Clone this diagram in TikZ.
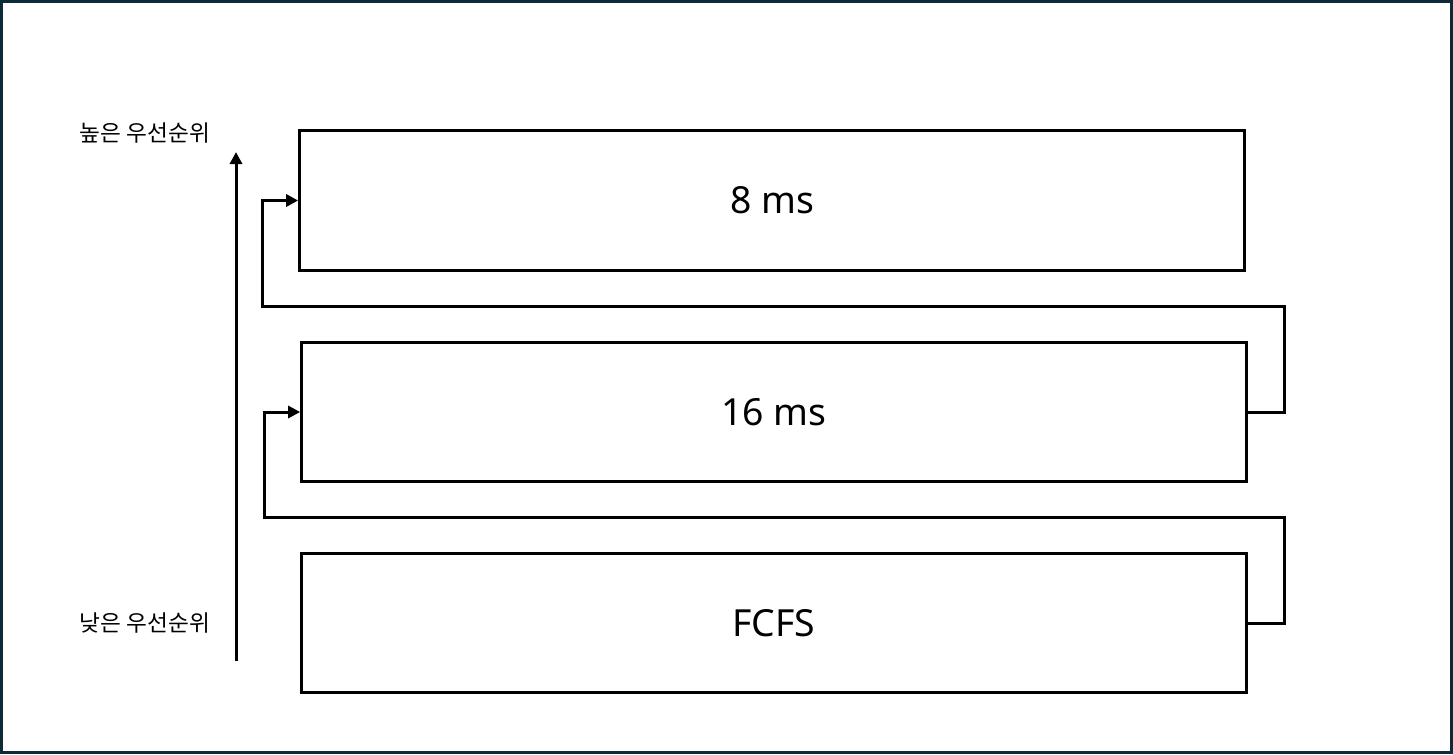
\documentclass[tikz,border=0pt]{standalone}
\usepackage{fontspec}
\setmainfont{Noto Sans}
\newfontfamily\kofont{Noto Sans CJK KR}
\usetikzlibrary{positioning,arrows.meta}
\definecolor{framecol}{HTML}{0C2A38}

\begin{document}
\begin{tikzpicture}[x=0.75pt,y=-0.75pt,
every node/.style={inner sep=0pt},
queue/.style={draw, line width=2.25pt, minimum width=708.5pt, minimum height=104.5pt, font=\fontsize{28}{32}\selectfont},
prio/.style={font=\kofont\fontsize{17}{20}\selectfont},
link/.style={line width=2.25pt, -{Triangle[length=9pt,width=9pt]}}]
\useasboundingbox (0,0) rectangle (1453,754);
\draw[framecol, line width=2.25pt] (1.5,1.5) rectangle (1451.5,752.5);
% queues
\node[queue] (q1) at (772,200.5) {8 ms};
\node[queue] (q2) at (774,412) {16 ms};
\node[queue] (q3) at (774,623) {FCFS};
% priority axis
\coordinate (lo) at (236,661);
\coordinate (hi) at (236,152);
\draw[link] (lo) -- (hi);
\node[prio] (high) at (145,133) {높은 우선순위};
\node[prio] (low) at (145,623) {낮은 우선순위};
% feedback links
\coordinate (r1) at (1284,306);
\coordinate (l1) at (262,306);
\coordinate (r2) at (1284,517);
\coordinate (l2) at (264,517);
\draw[link] (q2.east) -| (r1) -- (l1) |- (q1.west);
\draw[link] (q3.east) -| (r2) -- (l2) |- (q2.west);
\end{tikzpicture}
\end{document}
